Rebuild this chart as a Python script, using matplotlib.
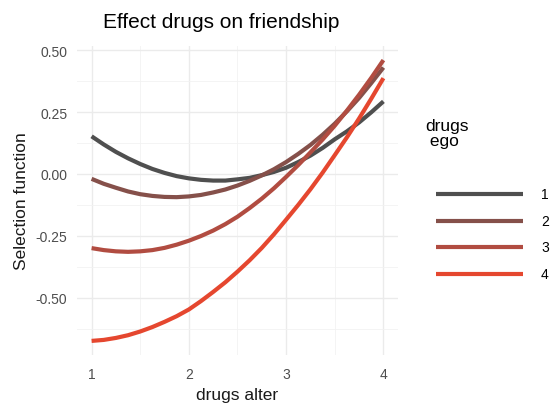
import numpy as np
import matplotlib.pyplot as plt

# values (selection function by alter value, one line per ego value)
drugs_alter = [1.0, 1.125, 1.25, 1.375, 1.5, 1.625, 1.75, 1.875, 2.0, 2.125, 2.25, 2.375, 2.5,
               2.625, 2.75, 2.875, 3.0, 3.125, 3.25, 3.375, 3.5, 3.625, 3.75, 3.875, 4.0]
ego_1 = [0.152, 0.119, 0.089, 0.063, 0.040, 0.020, 0.004, -0.009, -0.018, -0.024, -0.027, -0.027,
         -0.022, -0.016, -0.005, 0.008, 0.025, 0.048, 0.074, 0.105, 0.140, 0.172, 0.208, 0.249, 0.293]
ego_2 = [-0.020, -0.040, -0.056, -0.071, -0.082, -0.089, -0.093, -0.094, -0.091, -0.085, -0.075, -0.063,
         -0.047, -0.028, -0.006, 0.019, 0.048, 0.081, 0.117, 0.158, 0.203, 0.253, 0.307, 0.367, 0.430]
ego_3 = [-0.300, -0.308, -0.313, -0.315, -0.313, -0.308, -0.299, -0.286, -0.270, -0.251, -0.229, -0.203,
         -0.173, -0.138, -0.100, -0.058, -0.012, 0.036, 0.087, 0.139, 0.195, 0.256, 0.320, 0.388, 0.460]
ego_4 = [-0.675, -0.671, -0.663, -0.652, -0.637, -0.619, -0.598, -0.575, -0.548, -0.514, -0.477, -0.438,
         -0.395, -0.349, -0.299, -0.244, -0.185, -0.125, -0.062, 0.005, 0.076, 0.148, 0.224, 0.304, 0.387]
ego_labels = ['1', '2', '3', '4']
colors = ['#4f4f4f', '#85504a', '#b14c41', '#e5472f']

x_ticks = [1, 2, 3, 4]
y_ticks = [-0.50, -0.25, 0.00, 0.25, 0.50]

plt.rcParams['font.family'] = ['Liberation Sans', 'DejaVu Sans']

W, H = 557, 410
fig = plt.figure(figsize=(W / 100, H / 100), dpi=100)

# panel in pixel coordinates
left, right, top, bottom = 77, 398, 47, 356
ax = fig.add_axes([left / W, (H - bottom) / H, (right - left) / W, (bottom - top) / H])

series = [ego_1, ego_2, ego_3, ego_4]
for vals, col in zip(series, colors):
    ax.plot(drugs_alter, vals, color=col, lw=3.0, solid_capstyle='butt',
            solid_joinstyle='round', zorder=3)

ax.set_xlim(0.85, 4.15)
ax.set_ylim(-0.732, 0.517)
ax.set_xticks(x_ticks)
ax.set_xticklabels([str(t) for t in x_ticks])
ax.set_yticks(y_ticks)
ax.set_yticklabels([f'{t:.2f}' for t in y_ticks])
ax.set_xticks([1.5, 2.5, 3.5], minor=True)
ax.set_yticks([-0.625, -0.375, -0.125, 0.125, 0.375], minor=True)

ax.grid(True, which='major', color='#ebebeb', lw=1.0)
ax.grid(True, which='minor', color='#f2f2f2', lw=0.6)
ax.set_axisbelow(True)
for s in ax.spines.values():
    s.set_visible(False)
ax.tick_params(which='both', length=0, labelsize=10, labelcolor='#4d4d4d')
ax.tick_params(axis='x', pad=9)
ax.tick_params(axis='y', pad=7)

ax.set_xlabel('drugs alter', fontsize=12.5, color='#1a1a1a', labelpad=4)
ax.set_ylabel('Selection function', fontsize=12.5, color='#1a1a1a', labelpad=5)

fig.text(221.5 / W, 1 - 22.5 / H, 'Effect drugs on friendship', fontsize=15,
         ha='center', va='center', color='#000000')

# legend drawn in pixel space
lg = fig.add_axes([0, 0, 1, 1])
lg.set_xlim(0, W)
lg.set_ylim(H, 0)
lg.axis('off')
lg.text(425, 134, 'drugs\n ego', fontsize=12.5, ha='left', va='center',
        color='#000000', linespacing=1.0)
key_y = [195, 221.7, 248.3, 275]
for yk, col, lab in zip(key_y, colors, ego_labels):
    lg.plot([436, 523], [yk, yk], color=col, lw=3.0, solid_capstyle='butt')
    lg.text(541, yk, lab, fontsize=10, ha='left', va='center', color='#000000')

fig.savefig('out.png', dpi=100, facecolor='white')
